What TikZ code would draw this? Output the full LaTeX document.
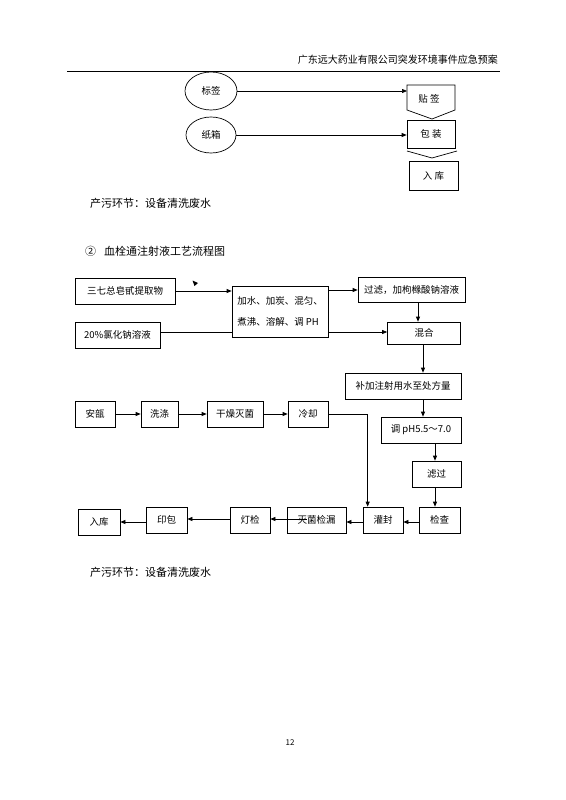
\documentclass[tikz,border=0pt]{standalone}
\usepackage{fontspec}
\setmainfont{Noto Sans CJK SC}
\usetikzlibrary{arrows.meta,shapes.geometric,calc}
\tikzset{
  box/.style={draw,line width=0.7pt,rectangle,inner sep=0pt,font=\fontsize{9.5}{11}\selectfont},
  oval/.style={draw,line width=0.7pt,ellipse,inner sep=0pt,font=\fontsize{9.5}{11}\selectfont},
  conn/.style={line width=0.7pt},
  arr/.style={line width=0.7pt,-{Triangle[length=5pt,width=4pt]}},
  plain/.style={inner sep=0pt},
}
\begin{document}
\begin{tikzpicture}[x=1pt,y=-1pt]
\useasboundingbox (0,0) rectangle (565,800);
\fill[white] (0,0) rectangle (565,800);
% header
\node[plain,anchor=east,font=\fontsize{10}{12}\selectfont] (hdr) at (498,60) {广东远大药业有限公司突发环境事件应急预案};
\coordinate (hl) at (67,71);
\coordinate (hr) at (500,71);
\draw[line width=0.6pt] (hl) -- (hr);
% top part
\node[oval,minimum width=52pt,minimum height=38pt] (bq) at (211,91) {标签};
\node[oval,minimum width=50pt,minimum height=36pt] (zx) at (211,135) {纸箱};
\node[plain,minimum width=48pt,minimum height=25pt,font=\fontsize{9.5}{11}\selectfont] (tq) at (429,99) {贴 签};
\draw[conn] (407,85) -- (455,85) -- (455,110) -- (432,119) -- (407,110) -- cycle;
\node[box,minimum width=48pt,minimum height=28pt] (bz) at (431,134) {包 装};
\coordinate (cvl) at (407,151);
\coordinate (cvm) at (432,158);
\coordinate (cvr) at (457,151);
\draw[conn] (cvl) -- (cvm) -- (cvr);
\node[box,minimum width=49pt,minimum height=29pt] (rk) at (433.5,175.5) {入 库};
\draw[arr] (bq.east) -- (bq.east -| 407,0);
\draw[arr] (zx.east) -- (zx.east -| bz.west);
% texts
\node[plain,anchor=west,font=\fontsize{11}{13}\selectfont] (t1) at (90,203) {产污环节：设备清洗废水};
\node[plain,anchor=west,font=\fontsize{11}{13}\selectfont] (t2) at (85,251) {②\hspace{8pt}血栓通注射液工艺流程图};
% flow chart
\node[box,minimum width=100pt,minimum height=26pt] (sq) at (125,291) {三七总皂甙提取物};
\node[box,minimum width=85pt,minimum height=26pt] (nacl) at (117.5,335) {20\%氯化钠溶液};
\node[box,minimum width=96pt,minimum height=51pt,align=left,font=\fontsize{9.5}{21}\selectfont] (big) at (280,311.5) {加水、加炭、混匀、\\煮沸、溶解、调 PH};
\node[box,minimum width=107pt,minimum height=25pt] (gl) at (411.5,289.5) {过滤，加枸橼酸钠溶液};
\node[box,minimum width=73pt,minimum height=22pt] (hh) at (424,333) {混合};
\node[box,minimum width=116pt,minimum height=26pt] (bj) at (403,386) {补加注射用水至处方量};
\node[box,minimum width=80pt,minimum height=26pt] (tj) at (421,430) {调 pH5.5～7.0};
\node[box,minimum width=49pt,minimum height=26pt] (lg) at (436.5,474) {滤过};
% stray arrowhead
\fill (192.5,280.5) -- (198,283) -- (194.5,286) -- cycle;
\draw[arr] (sq.east |- 0,291) -- (big.west |- 0,291);
\draw[conn] (nacl.east |- 0,332) -- (big.west |- 0,332);
\draw[arr] (big.east |- 0,290) -- (gl.west |- 0,290);
\draw[arr] (big.east |- 0,332) -- (hh.west |- 0,332);
\draw[arr] ([xshift=6.5pt]gl.south) -- ([xshift=6.5pt]gl.south |- hh.north);
\draw[arr] ([xshift=-1pt]hh.south) -- ([xshift=-1pt]hh.south |- bj.north);
\draw[arr] ([xshift=-1pt]hh.south |- bj.south) -- ([xshift=-1pt]hh.south |- tj.north);
\draw[arr] ([xshift=-1.5pt]lg.north |- tj.south) -- ([xshift=-1.5pt]lg.north);
% ampoule row
\node[box,minimum width=40pt,minimum height=26pt] (ap) at (95,414) {安瓿};
\node[box,minimum width=37pt,minimum height=26pt] (xd) at (159.5,414) {洗涤};
\node[box,minimum width=56pt,minimum height=26pt] (gz) at (235,414) {干燥灭菌};
\node[box,minimum width=40pt,minimum height=26pt] (lq) at (308,414) {冷却};
\draw[arr] (ap) -- (xd);
\draw[arr] (xd) -- (gz);
\draw[arr] (gz) -- (lq);
% bottom row
\node[box,minimum width=42pt,minimum height=26pt] (rk2) at (99,522) {入库};
\node[box,minimum width=41pt,minimum height=26pt] (yb) at (166.5,520) {印包};
\node[box,minimum width=40pt,minimum height=26pt] (dj) at (250,520) {灯检};
\node[box,minimum width=59pt,minimum height=26pt] (mj) at (316.5,520) {灭菌检漏};
\node[box,minimum width=40pt,minimum height=26pt] (gf) at (383,520) {灌封};
\node[box,minimum width=41pt,minimum height=26pt] (jc) at (439.5,520) {检查};
\draw[arr] ([xshift=-1.5pt]lg.south) -- ([xshift=-1.5pt]lg.south |- jc.north);
\draw[arr] (lq.east) -| ([xshift=5pt]gf.north west);
\draw[arr] (jc.west |- 0,522) -- (gf.east |- 0,522);
\draw[arr] (gf.west |- 0,522) -- (mj.east |- 0,522);
\draw[arr] ([xshift=20pt]mj.west |- 0,519) -- (dj.east |- 0,519);
\draw[arr] (dj.west |- 0,519) -- (yb.east |- 0,519);
\draw[arr] (yb.west |- 0,522) -- (rk2.east |- 0,522);
\node[plain,anchor=west,font=\fontsize{11}{13}\selectfont] (t3) at (90,572) {产污环节：设备清洗废水};
\node[plain,font=\fontsize{8}{10}\selectfont] (pg) at (290,743) {12};
\end{tikzpicture}
\end{document}
